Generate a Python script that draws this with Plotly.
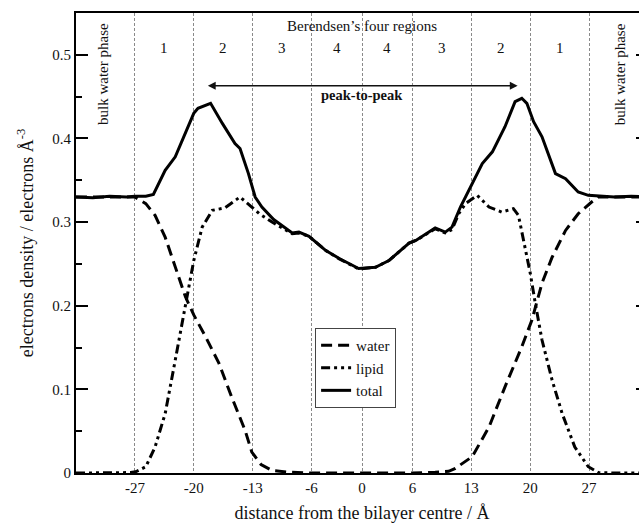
import plotly.graph_objects as go

# ---- data ----
total_x = [-34, -32, -30, -28, -27, -25.7, -24.8, -23.4, -22.2, -21.0, -20.0, -19.5, -18.0, -16.6, -15.1, -14.5,
           -13.5, -12.7, -11.9, -10.5, -8.3, -7.5, -6.3, -4.3, -2.7, -0.4, 1.6, 3.2, 5.6, 6.4, 8.7, 9.9, 10.7,
           11.7, 13.1, 14.3, 15.5, 17.0, 18.2, 19.0, 19.6, 20.4, 21.4, 23.0, 24.2, 25.7, 26.9, 28, 30, 32, 34]
total_y = [0.330, 0.329, 0.331, 0.330, 0.331, 0.331, 0.333, 0.362, 0.378, 0.406, 0.430, 0.436, 0.442, 0.418,
           0.394, 0.388, 0.358, 0.330, 0.318, 0.303, 0.287, 0.288, 0.283, 0.266, 0.2565, 0.2445, 0.246, 0.254,
           0.275, 0.278, 0.293, 0.288, 0.294, 0.318, 0.346, 0.370, 0.384, 0.414, 0.444, 0.448, 0.442, 0.420,
           0.402, 0.358, 0.352, 0.336, 0.332, 0.331, 0.330, 0.331, 0.330]

water_x = [-34, -30, -27, -25.7, -24.6, -23.4, -22.2, -21.0, -20.0, -18.6, -17.0, -15.5, -13.9, -13.1, -12.0,
           -10.7, -8.7, -6, 0, 6, 8.7, 10.3, 11.1, 13.1, 15.1, 17.0, 19.0, 20.2, 21.4, 22.6, 24.2, 25.7, 27.3,
           28.1, 30, 34]
water_y = [0.330, 0.330, 0.330, 0.322, 0.308, 0.282, 0.2465, 0.211, 0.189, 0.163, 0.131, 0.091, 0.051, 0.025,
           0.010, 0.003, 0.001, 0, 0, 0, 0.001, 0.002, 0.0056, 0.0195, 0.055, 0.103, 0.151, 0.183, 0.227, 0.258,
           0.290, 0.310, 0.324, 0.330, 0.330, 0.330]

lipid_x = [-34, -30, -27.5, -26.9, -25.7, -24.6, -23.4, -22.2, -21.0, -20.0, -19.0, -17.8, -16.3, -14.5, -13.1,
           -12.2, -10.7, -8.3, -7.5, -6.3, -4.3, -2.7, -0.4, 1.6, 3.2, 5.6, 6.4, 8.7, 9.9, 10.7, 11.5, 12.3, 13.7,
           15.1, 16.6, 18.0, 18.6, 19.2, 20.0, 20.6, 21.4, 22.6, 23.8, 25.3, 26.9, 28.1, 30, 34]
lipid_y = [0, 0, 0.0005, 0.0015, 0.0075, 0.031, 0.071, 0.135, 0.199, 0.254, 0.294, 0.314, 0.317, 0.330, 0.318,
           0.310, 0.300, 0.286, 0.287, 0.283, 0.266, 0.256, 0.244, 0.246, 0.254, 0.275, 0.278, 0.292, 0.287,
           0.291, 0.310, 0.322, 0.332, 0.318, 0.312, 0.316, 0.308, 0.278, 0.239, 0.203, 0.159, 0.111, 0.071,
           0.031, 0.0075, 0.0005, 0, 0]

boundary_ticks = [-27, -20, -13, -6, 0, 6, 13, 20, 27]
y_ticks = [0, 0.1, 0.2, 0.3, 0.4, 0.5]
y_tick_labels = ["0", "0.1", "0.2", "0.3", "0.4", "0.5"]
region_labels = ["1", "2", "3", "4", "4", "3", "2", "1"]
region_centres = [-23.5, -16.5, -9.5, -3, 3, 9.5, 16.5, 23.5]
peak_positions = [-18.5, 18.5]

FONT = "Liberation Serif, Times New Roman, serif"
INK = "#111"

fig = go.Figure()
fig.add_trace(go.Scatter(x=water_x, y=water_y, mode="lines", name="water",
                         line=dict(color="black", width=3, dash="11px,6px")))
fig.add_trace(go.Scatter(x=lipid_x, y=lipid_y, mode="lines", name="lipid",
                         line=dict(color="black", width=3, dash="9px,4px,3px,4px,3px,4px")))
fig.add_trace(go.Scatter(x=total_x, y=total_y, mode="lines", name="total",
                         line=dict(color="black", width=3)))

annotations = []
for lab, xc in zip(region_labels, region_centres):
    annotations.append(dict(x=xc, y=0.508, xref="x", yref="y", text=lab, showarrow=False,
                            font=dict(family=FONT, size=15, color=INK)))
annotations.append(dict(x=0, y=0.535, xref="x", yref="y", text="Berendsen\u2019s four regions",
                        showarrow=False, font=dict(family=FONT, size=15, color=INK)))
for xb in (-30.8, 30.7):
    annotations.append(dict(x=xb, y=0.477, xref="x", yref="y", text="bulk water phase", textangle=-90,
                            showarrow=False, font=dict(family=FONT, size=15, color=INK)))
annotations.append(dict(x=peak_positions[1], y=0.463, ax=peak_positions[0], ay=0.463, xref="x", yref="y",
                        axref="x", ayref="y", text="", showarrow=True, arrowhead=2, startarrowhead=2,
                        arrowside="end+start", arrowwidth=1.3, arrowsize=1.2, arrowcolor=INK))
annotations.append(dict(x=0, y=0.4516, xref="x", yref="y", text="<b>peak-to-peak</b>", showarrow=False,
                        font=dict(family=FONT, size=14.5, color=INK)))

fig.update_layout(
    width=651, height=523,
    margin=dict(l=76, r=1, t=13, b=50),
    paper_bgcolor="white", plot_bgcolor="white",
    font=dict(family=FONT, size=15, color=INK),
    annotations=annotations,
    showlegend=True,
    legend=dict(x=0.418, y=0.315, xanchor="left", yanchor="top", itemwidth=30,
                bgcolor="white", bordercolor="#444", borderwidth=1,
                font=dict(family=FONT, size=15, color=INK), tracegroupgap=0),
    xaxis=dict(range=[-34, 34], tickvals=boundary_ticks, ticktext=[str(v) for v in boundary_ticks],
               ticks="", showgrid=True, gridcolor="#8a8a8a", griddash="3px,2px", gridwidth=1,
               showline=True, linecolor="black", linewidth=2, mirror=True, zeroline=False,
               tickfont=dict(family=FONT, size=15, color=INK),
               title=dict(text="distance from the bilayer centre / \u00c5",
                          font=dict(family=FONT, size=18, color=INK), standoff=12)),
    yaxis=dict(range=[0, 0.55], tickvals=y_ticks, ticktext=y_tick_labels,
               ticks="inside", ticklen=12, tickwidth=2, tickcolor="black",
               minor=dict(dtick=0.05, ticks="inside", ticklen=6, tickwidth=2, tickcolor="black", showgrid=False),
               showgrid=False, showline=True, linecolor="black", linewidth=2, mirror="ticks", zeroline=False,
               tickfont=dict(family=FONT, size=15, color=INK),
               title=dict(text="electrons density / electrons \u00c5<sup>-3</sup>",
                          font=dict(family=FONT, size=18, color=INK), standoff=14)),
)

fig.write_html("out.html",
               post_script="document.documentElement.style.overflow='hidden';document.body.style.overflow='hidden';")
